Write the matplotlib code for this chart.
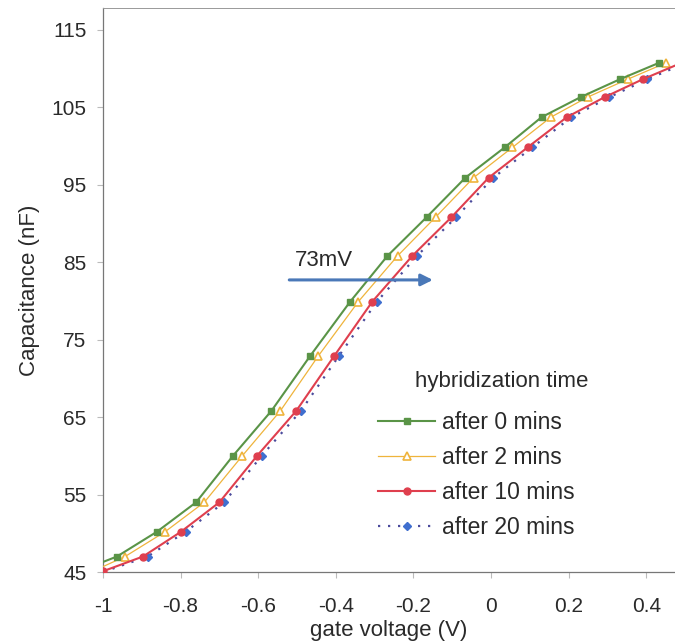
import matplotlib
matplotlib.use("Agg")
import matplotlib.pyplot as plt

plt.rcParams['font.family'] = ['Liberation Sans', 'DejaVu Sans']

# ---- data ----
levels = [47.0, 50.2, 54.0, 60.0, 65.8, 72.9, 79.9, 85.8, 90.8, 95.9, 99.8, 103.7, 106.3, 108.6, 110.7]

x0 = [-0.964, -0.861, -0.760, -0.665, -0.566, -0.466, -0.363, -0.267, -0.166, -0.066, 0.035, 0.130, 0.231, 0.332, 0.432]
x2 = [-0.943, -0.840, -0.739, -0.641, -0.543, -0.445, -0.342, -0.241, -0.143, -0.045, 0.055, 0.154, 0.249, 0.352, 0.450]
x10 = [-0.897, -0.799, -0.700, -0.603, -0.502, -0.404, -0.306, -0.203, -0.102, -0.006, 0.094, 0.195, 0.293, 0.391, 0.490]
x20 = [-0.885, -0.787, -0.688, -0.591, -0.490, -0.392, -0.294, -0.191, -0.090, 0.006, 0.106, 0.207, 0.305, 0.403, 0.502]

# line start values at V = -1
start0 = 46.3
start2 = 45.7
start10 = 45.1
start20 = 45.0

series_labels = ["after 0 mins", "after 2 mins", "after 10 mins", "after 20 mins"]
legend_title = "hybridization time"
annot_text = "73mV"
arrow_x = [-0.52, -0.15]
arrow_y = 82.7

yticks = [45, 55, 65, 75, 85, 95, 105, 115]
xticks = [-1, -0.8, -0.6, -0.4, -0.2, 0, 0.2, 0.4]
xticklabels = ["-1", "-0.8", "-0.6", "-0.4", "-0.2", "0", "0.2", "0.4"]

# ---- figure ----
fig = plt.figure(figsize=(6.75, 6.43), dpi=100)
ax = fig.add_axes([0.1526, 0.1104, 0.8474, 0.8772])

green = "#5a9447"
yellow = "#efb43c"
red = "#df3f4e"
blue_m = "#3f6fcf"
blue_l = "#4b4b9c"

ax.plot([-1.0] + x0, [start0] + levels, color=green, lw=1.5, marker='s', ms=5,
        markevery=list(range(1, len(x0) + 1)), label=series_labels[0], zorder=4)
ax.plot([-1.0] + x2, [start2] + levels, color=yellow, lw=0.9, marker='^', ms=6,
        mfc='white', mec=yellow, mew=1.2,
        markevery=list(range(1, len(x2) + 1)), label=series_labels[1], zorder=3)
ax.plot([-1.0] + x10, [start10] + levels, color=red, lw=1.5, marker='o', ms=5,
        label=series_labels[2], zorder=3)
ax.plot([-1.0] + x20, [start20] + levels, color=blue_l, lw=1.6, ls=(0, (1, 3.5)),
        marker='D', ms=4.5, mfc=blue_m, mec=blue_m,
        markevery=list(range(1, len(x20) + 1)), label=series_labels[3], zorder=2)

ax.set_xlim(-1.0, 0.474)
ax.set_ylim(45, 117.8)
ax.set_yticks(yticks)
ax.set_xticks(xticks)
ax.set_xticklabels(xticklabels)

txtc = "#2a2a2a"
ax.tick_params(axis='both', direction='out', length=4, width=0.8, color="#bbbbbb",
               labelsize=15, labelcolor=txtc)
ax.tick_params(axis='x', pad=14)
ax.tick_params(axis='y', pad=8)
for s in ['left', 'bottom']:
    ax.spines[s].set_color("#777777")
    ax.spines[s].set_linewidth(0.9)
ax.spines['top'].set_color("#999999")
ax.spines['top'].set_linewidth(0.7)
ax.spines['top'].set_linestyle((0, (2, 1)))
ax.spines['right'].set_visible(False)

ax.set_xlabel("gate voltage (V)", fontsize=16, color=txtc, labelpad=3)
ax.set_ylabel("Capacitance (nF)", fontsize=16, color=txtc, labelpad=8)

# arrow + annotation
ax.annotate("", xy=(arrow_x[1], arrow_y), xytext=(arrow_x[0], arrow_y),
            arrowprops=dict(arrowstyle="-|>,head_length=0.7,head_width=0.35",
                            color="#4a78b8", lw=2.2, shrinkA=0, shrinkB=0), zorder=5)
ax.text(-0.505, 85.2, annot_text, fontsize=16, color=txtc, ha='left', va='center')

# legend (title drawn as separate text for spacing)
fig.text(502 / 675, 1 - 381 / 643, legend_title, fontsize=16, color=txtc,
         ha='center', va='center')
leg = ax.legend(loc='upper left', bbox_to_anchor=(378 / 675, 1 - 411 / 643),
                bbox_transform=fig.transFigure, borderaxespad=0, borderpad=0,
                frameon=False, fontsize=16.5, handlelength=2.5,
                labelspacing=0.52, handletextpad=0.3)
for t in leg.get_texts():
    t.set_color(txtc)

fig.savefig("out.png", dpi=100)
